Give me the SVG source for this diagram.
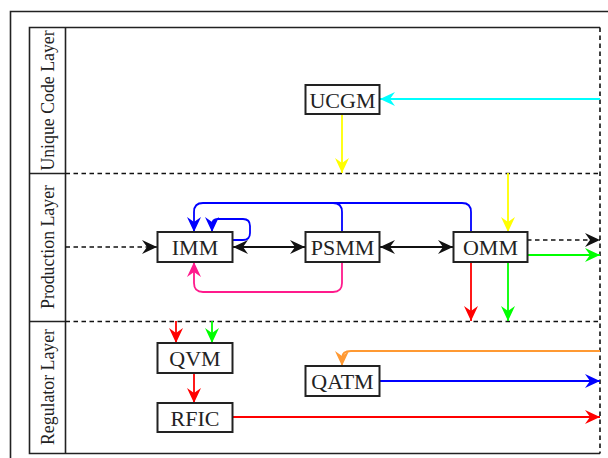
<svg xmlns="http://www.w3.org/2000/svg" width="608" height="458" viewBox="0 0 608 458">
<defs>
<style>
.frame{fill:none;stroke:#222;stroke-width:1.6}
.dash{fill:none;stroke:#111;stroke-width:1.6;stroke-dasharray:4.5 3.5}
.node rect{fill:#fff;stroke:#222;stroke-width:2}
.c{fill:none;stroke-width:1.8}
</style>
<marker id="aK" markerUnits="userSpaceOnUse" markerWidth="18" markerHeight="18" viewBox="-16 -9 18 18" refX="0" refY="0" orient="auto-start-reverse"><path d="M0,0 L-15,-7 L-10,0 L-15,7 Z" fill="#111"/></marker>
<marker id="aB" markerUnits="userSpaceOnUse" markerWidth="18" markerHeight="18" viewBox="-16 -9 18 18" refX="0" refY="0" orient="auto"><path d="M0,0 L-15,-7 L-10,0 L-15,7 Z" fill="#0000ff"/></marker>
<marker id="aR" markerUnits="userSpaceOnUse" markerWidth="18" markerHeight="18" viewBox="-16 -9 18 18" refX="0" refY="0" orient="auto"><path d="M0,0 L-15,-7 L-10,0 L-15,7 Z" fill="#ff0000"/></marker>
<marker id="aG" markerUnits="userSpaceOnUse" markerWidth="18" markerHeight="18" viewBox="-16 -9 18 18" refX="0" refY="0" orient="auto"><path d="M0,0 L-15,-7 L-10,0 L-15,7 Z" fill="#00ff00"/></marker>
<marker id="aY" markerUnits="userSpaceOnUse" markerWidth="18" markerHeight="18" viewBox="-16 -9 18 18" refX="0" refY="0" orient="auto"><path d="M0,0 L-15,-7 L-10,0 L-15,7 Z" fill="#ffff00"/></marker>
<marker id="aC" markerUnits="userSpaceOnUse" markerWidth="18" markerHeight="18" viewBox="-16 -9 18 18" refX="0" refY="0" orient="auto"><path d="M0,0 L-15,-7 L-10,0 L-15,7 Z" fill="#00ffff"/></marker>
<marker id="aP" markerUnits="userSpaceOnUse" markerWidth="18" markerHeight="18" viewBox="-16 -9 18 18" refX="0" refY="0" orient="auto"><path d="M0,0 L-15,-7 L-10,0 L-15,7 Z" fill="#ff1a8c"/></marker>
<marker id="aO" markerUnits="userSpaceOnUse" markerWidth="18" markerHeight="18" viewBox="-16 -9 18 18" refX="0" refY="0" orient="auto"><path d="M0,0 L-15,-7 L-10,0 L-15,7 Z" fill="#ff9933"/></marker>
</defs>
<rect width="608" height="458" fill="#fff"/>
<g id="frame">
<path class="frame" d="M10.5,460 V11.5 H610"/>
<path class="frame" d="M600,27.5 H29.5 V453.5 H600"/>
<path class="frame" d="M65.5,27.5 V453.5 M29.5,173.5 H65.5 M29.5,321.5 H65.5"/>
<path class="dash" d="M65.5,173.5 H600 M65.5,321.5 H600 M600,27.5 V453.5"/>
<text font-family="Liberation Serif" font-size="17.8" fill="#222" text-anchor="middle" transform="translate(54,100.5) rotate(-90)">Unique Code Layer</text>
<text font-family="Liberation Serif" font-size="17.8" fill="#222" text-anchor="middle" transform="translate(54,247) rotate(-90)">Production Layer</text>
<text font-family="Liberation Serif" font-size="17.8" fill="#222" text-anchor="middle" transform="translate(54,387) rotate(-90)">Regulator Layer</text>
</g>
<g id="connectors">
<path class="c" stroke="#00ffff" d="M600,99 H380" marker-end="url(#aC)"/>
<path class="c" stroke="#ffff00" d="M342,114 V173" marker-end="url(#aY)"/>
<path class="c" stroke="#ffff00" d="M508,173 V232" marker-end="url(#aY)"/>
<path class="dash" d="M65.5,247 H157" marker-end="url(#aK)"/>
<path class="c" stroke="#111" d="M233,247 H305" marker-start="url(#aK)" marker-end="url(#aK)"/>
<path class="c" stroke="#111" d="M380,247 H453" marker-start="url(#aK)" marker-end="url(#aK)"/>
<path class="c" stroke="#0000ff" d="M471,232 V212 Q471,203 462,203 H203 Q194,203 194,212 V232" marker-end="url(#aB)"/>
<path class="c" stroke="#0000ff" d="M342,232 V212 Q342,203 333,203"/>
<path class="c" stroke="#0000ff" d="M232,240 H243 Q250,240 250,233 V226 Q250,219 243,219 H218 Q212,219 212,225 V232" marker-end="url(#aB)"/>
<path class="c" stroke="#ff1a8c" d="M342,262 V283 Q342,292 333,292 H203 Q194,292 194,283 V262" marker-end="url(#aP)"/>
<path class="dash" d="M527,240 H600" marker-end="url(#aK)"/>
<path class="c" stroke="#00ff00" d="M527,255 H600" marker-end="url(#aG)"/>
<path class="c" stroke="#ff0000" d="M471,262 V321" marker-end="url(#aR)"/>
<path class="c" stroke="#00ff00" d="M508,262 V321" marker-end="url(#aG)"/>
<path class="c" stroke="#ff0000" d="M176,321 V343" marker-end="url(#aR)"/>
<path class="c" stroke="#00ff00" d="M212,321 V343" marker-end="url(#aG)"/>
<path class="c" stroke="#ff0000" d="M194,373 V403" marker-end="url(#aR)"/>
<path class="c" stroke="#ff9933" d="M600,351 H351 Q342,351 342,358 V366" marker-end="url(#aO)"/>
<path class="c" stroke="#0000ff" d="M380,381 H600" marker-end="url(#aB)"/>
<path class="c" stroke="#ff0000" d="M233,417 H600" marker-end="url(#aR)"/>
</g>
<g id="UCGM" class="node"><rect x="305.5" y="85" width="74" height="29"/><text x="342.5" y="107.5" font-family="Liberation Serif" font-size="22" fill="#222" text-anchor="middle">UCGM</text></g>
<g id="IMM" class="node"><rect x="157.5" y="232" width="75" height="30"/><text x="195" y="255" font-family="Liberation Serif" font-size="22" fill="#222" text-anchor="middle">IMM</text></g>
<g id="PSMM" class="node"><rect x="305.5" y="232" width="74" height="30"/><text x="342.5" y="255" font-family="Liberation Serif" font-size="22" fill="#222" text-anchor="middle">PSMM</text></g>
<g id="OMM" class="node"><rect x="453.5" y="232" width="74" height="30"/><text x="490.5" y="255" font-family="Liberation Serif" font-size="22" fill="#222" text-anchor="middle">OMM</text></g>
<g id="QVM" class="node"><rect x="157.5" y="343" width="75" height="30"/><text x="195" y="366" font-family="Liberation Serif" font-size="22" fill="#222" text-anchor="middle">QVM</text></g>
<g id="RFIC" class="node"><rect x="157.5" y="403" width="75" height="29"/><text x="195" y="425.5" font-family="Liberation Serif" font-size="22" fill="#222" text-anchor="middle">RFIC</text></g>
<g id="QATM" class="node"><rect x="305.5" y="366" width="74" height="30"/><text x="342.5" y="389" font-family="Liberation Serif" font-size="22" fill="#222" text-anchor="middle">QATM</text></g>
</svg>
